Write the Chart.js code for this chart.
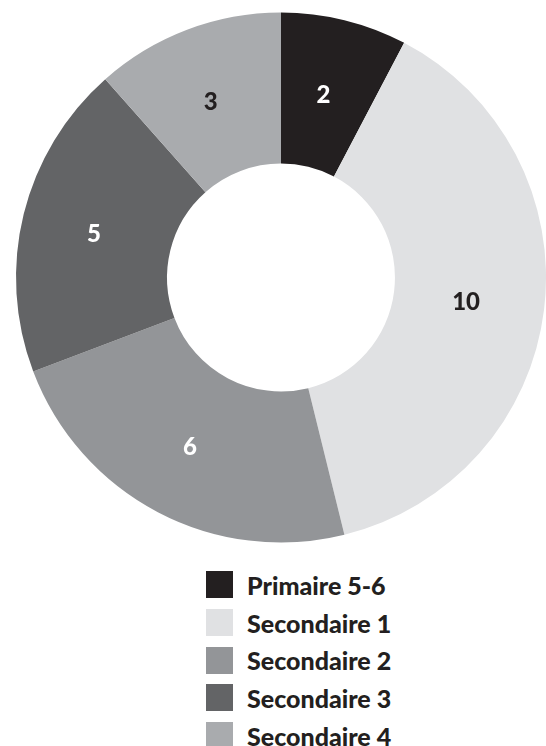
<!DOCTYPE html>
<html>
<head>
<meta charset="utf-8">
<script src="https://cdn.jsdelivr.net/npm/chart.js@4/dist/chart.umd.min.js"></script>
<style>
  html, body { margin: 0; padding: 0; background: #fff; overflow: hidden; }
  #wrap { position: relative; width: 546px; height: 546px; }
  #legend { list-style: none; margin: 20px 0 0 206px; padding: 0; font-family: Lato, sans-serif; font-weight: 900; font-size: 25px; color: #231f20; }
  #legend li { display: flex; align-items: center; height: 37.7px; }
  #legend span.box { display: inline-block; width: 27px; height: 27px; margin-right: 14px; }
</style>
</head>
<body>
<div id="wrap"><canvas id="donut"></canvas></div>
<ul id="legend"></ul>
<script>
const categories = ["Primaire 5-6", "Secondaire 1", "Secondaire 2", "Secondaire 3", "Secondaire 4"];
const counts = [2, 10, 6, 5, 3];
const sliceColors = ["#231f20", "#e0e1e3", "#939598", "#636466", "#a9abae"];
const labelColors = ["#ffffff", "#231f20", "#ffffff", "#ffffff", "#231f20"];

// writes each value in the middle of its slice
const sliceLabels = {
  id: "sliceLabels",
  afterDatasetsDraw(chart) {
    const ctx = chart.ctx;
    const meta = chart.getDatasetMeta(0);
    ctx.save();
    ctx.font = "900 24px Lato, sans-serif";
    ctx.textAlign = "center";
    ctx.textBaseline = "middle";
    meta.data.forEach((arc, i) => {
      const pos = arc.tooltipPosition();
      ctx.fillStyle = labelColors[i];
      ctx.fillText(String(counts[i]), pos.x - 3, pos.y + 2);
    });
    ctx.restore();
  }
};

const chart = new Chart(document.getElementById("donut"), {
  type: "doughnut",
  data: {
    labels: categories,
    datasets: [{
      data: counts,
      backgroundColor: sliceColors,
      borderWidth: 0
    }]
  },
  options: {
    responsive: true,
    maintainAspectRatio: false,
    animation: false,
    cutout: "43%",
    layout: { padding: { left: 16, right: 0, top: 11, bottom: 2 } },
    plugins: {
      legend: { display: false },
      tooltip: { enabled: false }
    }
  },
  plugins: [sliceLabels]
});

// html legend, one item per line
const legendEl = document.getElementById("legend");
chart.options.plugins.legend.labels.generateLabels(chart).forEach(item => {
  const li = document.createElement("li");
  const box = document.createElement("span");
  box.className = "box";
  box.style.backgroundColor = item.fillStyle;
  li.appendChild(box);
  li.appendChild(document.createTextNode(item.text));
  legendEl.appendChild(li);
});
</script>
</body>
</html>
